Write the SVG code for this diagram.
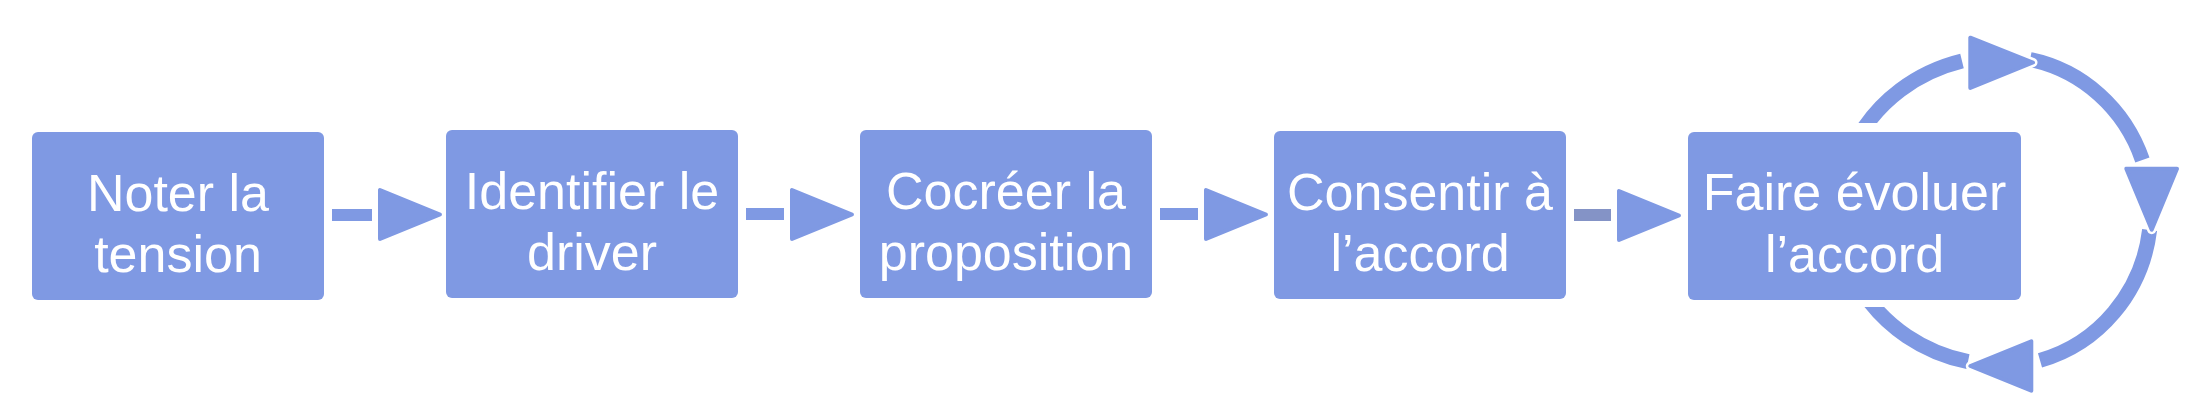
<svg xmlns="http://www.w3.org/2000/svg" xmlns:xlink="http://www.w3.org/1999/xlink" width="2200" height="420" viewBox="0 0 2200 420">
<style>
.box{fill:#7f99e3}
.lbl{font-family:"Liberation Sans",Arial,Helvetica,sans-serif;font-size:52px;fill:#ffffff;text-anchor:middle}
.ln{fill:#7f99e3}
.halo{fill:#ffffff;stroke:#ffffff;stroke-width:9;stroke-linejoin:round}
.head{fill:#7f99e3;stroke:#7f99e3;stroke-width:4;stroke-linejoin:round}
</style>
<defs>
<clipPath id="clipTop"><rect x="1600" y="0" width="600" height="123"/></clipPath>
<clipPath id="clipBot"><rect x="1600" y="307" width="600" height="113"/></clipPath>
<polygon id="hR" points="0,-24.5 0,24.5 60,0"/>
</defs>
<g id="connectors">
<rect class="ln" x="332" y="209" width="40" height="12"/>
<use xlink:href="#hR" class="halo" x="380" y="214.5"/>
<use xlink:href="#hR" class="head" x="380" y="214.5"/>
<rect class="ln" x="746" y="208" width="38" height="12"/>
<use xlink:href="#hR" class="halo" x="792" y="214.5"/>
<use xlink:href="#hR" class="head" x="792" y="214.5"/>
<rect class="ln" x="1160" y="208" width="38" height="12"/>
<use xlink:href="#hR" class="halo" x="1206" y="214.5"/>
<use xlink:href="#hR" class="head" x="1206" y="214.5"/>
<rect x="1574" y="209" width="37" height="12" fill="#8493c6"/>
<use xlink:href="#hR" class="halo" x="1619" y="215.5"/>
<use xlink:href="#hR" class="head" x="1619" y="215.5"/>
<g id="loop" fill="none" stroke="#7f99e3" stroke-width="15" stroke-linecap="butt">
<path clip-path="url(#clipTop)" d="M 1856.8 140 A 165.1 155 0 0 1 1962 61"/>
<path d="M 2030 59.5 A 150.8 155 0 0 1 2142.4 160"/>
<path d="M 2149.6 230 A 150.8 155 0 0 1 2040 360.4"/>
<path clip-path="url(#clipBot)" d="M 1968 361.7 A 165.1 155 0 0 1 1861.6 290"/>
</g>
<g id="loopheads">
<polygon class="halo" points="1970.3,37.7 1970.3,88 2033,62.5"/>
<polygon class="head" points="1970.3,37.7 1970.3,88 2033,62.5"/>
<polygon class="halo" points="2126.3,168.7 2177,168.7 2151.7,229.7"/>
<polygon class="head" points="2126.3,168.7 2177,168.7 2151.7,229.7"/>
<polygon class="halo" points="2031.3,341.3 2031.3,390.7 1970.3,366"/>
<polygon class="head" points="2031.3,341.3 2031.3,390.7 1970.3,366"/>
</g>
</g>
<g id="n1">
<rect class="box" x="32" y="132" width="292" height="168" rx="6"/>
<text class="lbl" x="178" y="211">Noter la</text>
<text class="lbl" x="178" y="272">tension</text>
</g>
<g id="n2">
<rect class="box" x="446" y="130" width="292" height="168" rx="6"/>
<text class="lbl" x="592" y="209">Identifier le</text>
<text class="lbl" x="592" y="270">driver</text>
</g>
<g id="n3">
<rect class="box" x="860" y="130" width="292" height="168" rx="6"/>
<text class="lbl" x="1006" y="209">Cocréer la</text>
<text class="lbl" x="1006" y="270">proposition</text>
</g>
<g id="n4">
<rect class="box" x="1274" y="131" width="292" height="168" rx="6"/>
<text class="lbl" x="1420" y="210">Consentir à</text>
<text class="lbl" x="1420" y="271">l’accord</text>
</g>
<g id="n5">
<rect class="box" x="1688" y="132" width="333" height="168" rx="6"/>
<text class="lbl" x="1854.5" y="210">Faire évoluer</text>
<text class="lbl" x="1854.5" y="272">l’accord</text>
</g>
</svg>
